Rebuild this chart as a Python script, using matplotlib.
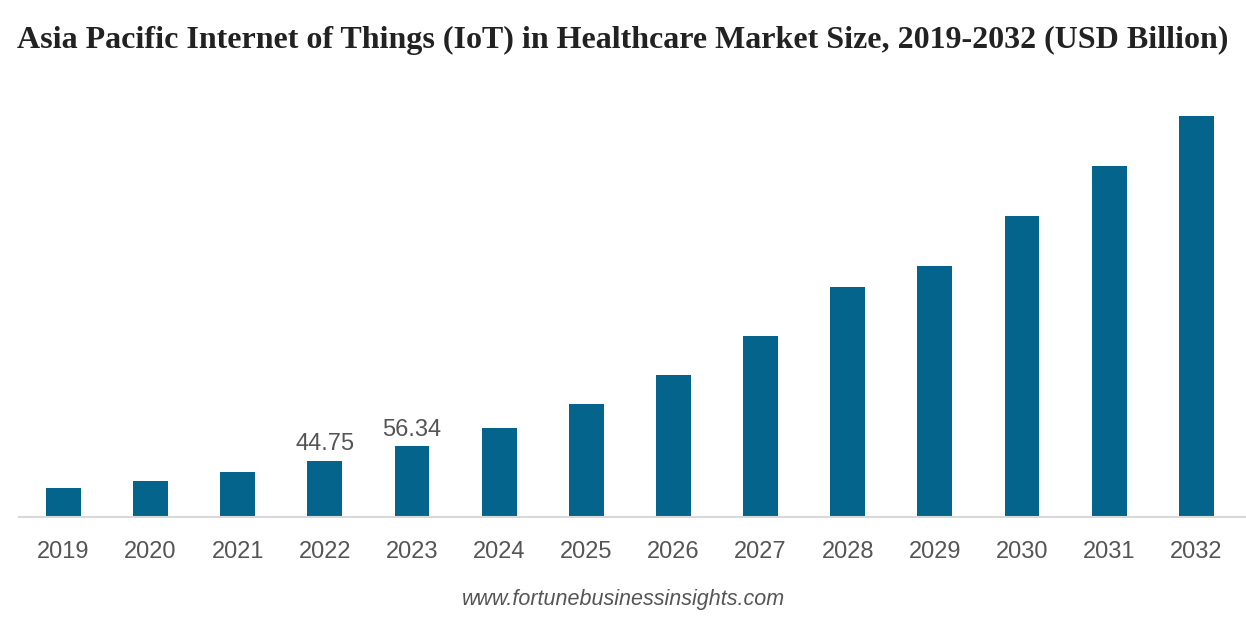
import matplotlib as mpl
mpl.use("Agg")
import matplotlib.pyplot as plt
import numpy as np


# chart data
years = ["2019", "2020", "2021", "2022", "2023", "2024", "2025",
         "2026", "2027", "2028", "2029", "2030", "2031", "2032"]
marketSize = [23.0, 28.6, 35.8, 44.75, 56.34, 71.1, 89.6,
              113.2, 143.7, 182.6, 199.3, 239.1, 278.8, 318.8]
labelledYears = ["2022", "2023"]

titleText = "Asia Pacific Internet of Things (IoT) in Healthcare Market Size, 2019-2032 (USD Billion)"
sourceText = "www.fortunebusinessinsights.com"

barColor = "#05648b"
textGray = "#555555"


fig = plt.figure(figsize=(12.46, 6.2), dpi=100)
ax = fig.add_axes([19/1246, 103/620, 1227/1246, 427.7/620])

xPos = np.arange(len(years))
bars = ax.bar(xPos, marketSize, width=0.40, color=barColor, zorder=2)

for rect, yr, val in zip(bars, years, marketSize):
    if yr in labelledYears:
        ax.annotate(f"{val:.2f}",
                    xy=(rect.get_x() + rect.get_width()/2, rect.get_height()),
                    xytext=(0, 4), textcoords="offset points",
                    ha="center", va="bottom",
                    fontsize=17, color=textGray, family="Liberation Sans")
#end-for

ax.set_xlim(-0.51, 13.57)
ax.set_ylim(0, 340)

ax.set_xticks(xPos)
ax.set_xticklabels(years, fontsize=17, color=textGray, family="Liberation Sans")
ax.tick_params(axis="x", length=0, pad=17)
ax.set_yticks([])

for side in ["top", "right", "left"]:
    ax.spines[side].set_visible(False)
#end-for
ax.spines["bottom"].set_color("#d9d9d9")
ax.spines["bottom"].set_linewidth(1.5)

fig.text(0.5, 1 - 40/620, titleText, ha="center", va="center",
         fontsize=23, fontweight="bold", color="#222222", family="Liberation Serif")
fig.text(0.5, 1 - 599/620, sourceText, ha="center", va="center",
         fontsize=15.5, style="italic", color=textGray, family="Liberation Sans")

plt.savefig("out.png", dpi=100)
